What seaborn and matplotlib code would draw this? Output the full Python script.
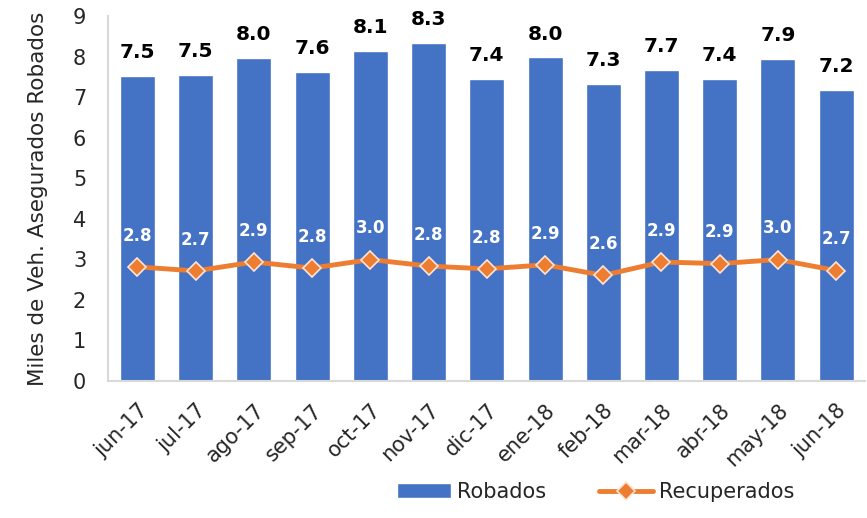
import numpy as np
import pandas as pd
import matplotlib
matplotlib.use("Agg")
import matplotlib.pyplot as plt
import seaborn as sns

meses = ['jun-17', 'jul-17', 'ago-17', 'sep-17', 'oct-17', 'nov-17', 'dic-17',
         'ene-18', 'feb-18', 'mar-18', 'abr-18', 'may-18', 'jun-18']
robados = [7.52, 7.55, 7.96, 7.62, 8.14, 8.34, 7.44, 7.98, 7.33, 7.67, 7.44, 7.94, 7.18]
recuperados = [2.81, 2.71, 2.93, 2.78, 2.99, 2.83, 2.76, 2.86, 2.60, 2.93, 2.89, 2.99, 2.72]

AZUL = '#4472C4'
NARANJA = '#ED7D31'


def main():
    sns.set_style("white")
    plt.rcParams['font.family'] = ['DejaVu Sans']

    df = pd.DataFrame({'Mes': meses, 'Robados': robados, 'Recuperados': recuperados})
    df['pos'] = np.arange(len(df))

    fig, ax = plt.subplots(figsize=(8.67, 5.18), dpi=100)
    fig.subplots_adjust(left=0.125, right=0.998, top=0.969, bottom=0.265)

    sns.barplot(data=df, x='Mes', y='Robados', color=AZUL, width=0.6,
                saturation=1, label='Robados', ax=ax)
    sns.lineplot(data=df, x='pos', y='Recuperados', color=NARANJA, linewidth=3.5,
                 marker='D', markersize=9, markeredgecolor='#FCE4D6',
                 markeredgewidth=1.2, label='Recuperados', ax=ax)

    # etiquetas de valores
    for i, v in enumerate(robados):
        ax.text(i, v + 0.34, f"{v:.1f}", ha='center', va='bottom',
                fontsize=14.5, fontweight='bold', color='black')
    for i, v in enumerate(recuperados):
        ax.text(i, v + 0.55, f"{v:.1f}", ha='center', va='bottom',
                fontsize=12, fontweight='bold', color='white')

    ax.set_xlim(-0.5, len(meses) - 0.5)
    ax.set_ylim(0, 9)
    ax.set_yticks(range(0, 10))
    ax.set_xticks(range(len(meses)))
    ax.set_xticklabels(meses, rotation=45, ha='right', rotation_mode='anchor')
    ax.tick_params(axis='both', labelsize=15, length=0, colors='#262626')
    ax.tick_params(axis='x', pad=14)
    ax.tick_params(axis='y', pad=16)
    ax.set_xlabel('')
    ax.set_ylabel('Miles de Veh. Asegurados Robados', fontsize=15.5, color='#262626', labelpad=18)

    for s in ['top', 'right']:
        ax.spines[s].set_visible(False)
    for s in ['left', 'bottom']:
        ax.spines[s].set_color('#D9D9D9')
        ax.spines[s].set_linewidth(1.5)

    h, l = ax.get_legend_handles_labels()
    orden = [l.index('Robados'), l.index('Recuperados')]
    ax.legend([h[k] for k in orden], [l[k] for k in orden],
              loc='lower center', bbox_to_anchor=(0.687, -0.005), bbox_transform=fig.transFigure,
              ncol=2, frameon=False, fontsize=15, handlelength=2.6, columnspacing=2.5,
              handletextpad=0.3)

    fig.savefig('out.png', dpi=100)


if __name__ == "__main__":
    main()
